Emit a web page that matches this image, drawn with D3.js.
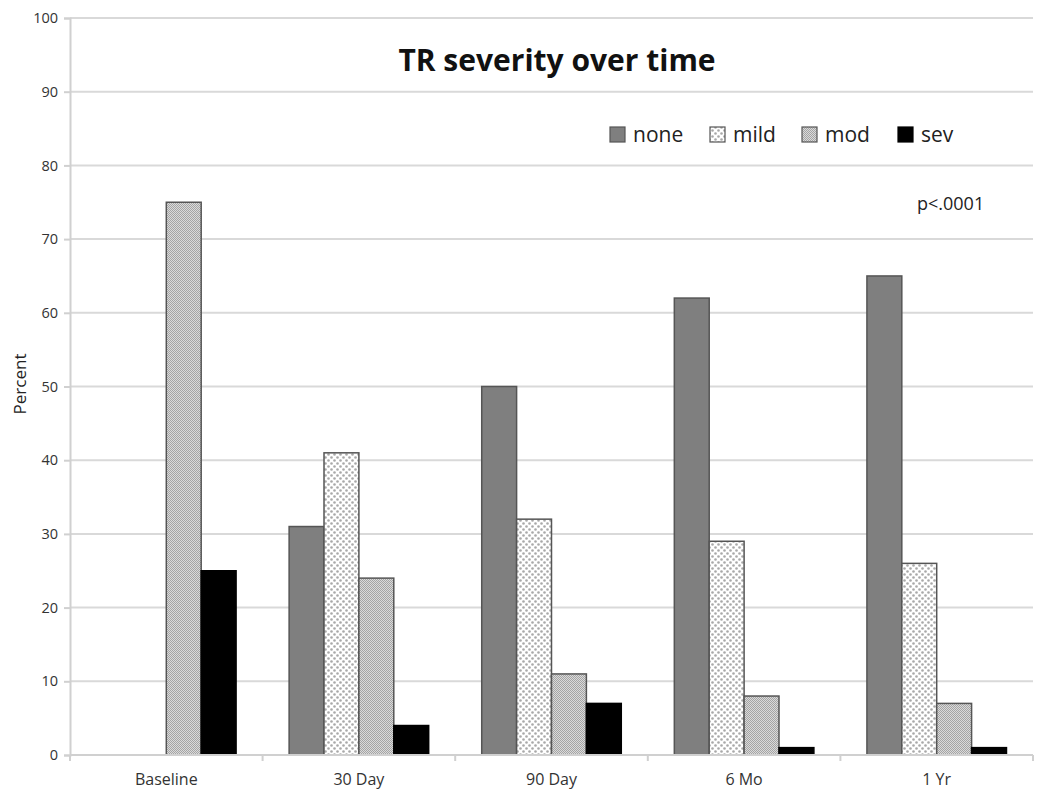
<!DOCTYPE html>
<html><head><meta charset="utf-8">
<script src="https://cdn.jsdelivr.net/npm/d3@7"></script>
<style>body{margin:0;background:#fff}svg{display:block}</style>
</head><body>
<svg id="c" width="1050" height="800"></svg>
<script>
const categories = ["Baseline", "30 Day", "90 Day", "6 Mo", "1 Yr"];
const seriesNames = ["none", "mild", "mod", "sev"];
const none = [0, 31, 50, 62, 65];
const mild = [0, 41, 32, 29, 26];
const mod  = [75, 24, 11, 8, 7];
const sev  = [25, 4, 7, 1, 1];
const yTicks = [0,10,20,30,40,50,60,70,80,90,100];
const title = "TR severity over time";
const yLabel = "Percent";
const note = "p<.0001";

const series = [none, mild, mod, sev];
const svg = d3.select("#c");
const font = "'Open Sans', 'Liberation Sans', sans-serif";
const M = {l:70, r:1033, t:18, b:755};

const defs = svg.append("defs");
const pm = defs.append("pattern").attr("id","pmild").attr("patternUnits","userSpaceOnUse").attr("width",6).attr("height",6);
pm.append("rect").attr("width",6).attr("height",6).attr("fill","#fff");
pm.append("circle").attr("cx",1.5).attr("cy",1.5).attr("r",1.3).attr("fill","#a8a8a8");
pm.append("circle").attr("cx",4.5).attr("cy",4.5).attr("r",1.3).attr("fill","#a8a8a8");
const pd = defs.append("pattern").attr("id","pmod").attr("patternUnits","userSpaceOnUse").attr("width",2).attr("height",2);
pd.append("rect").attr("width",2).attr("height",2).attr("fill","#dadada");
pd.append("rect").attr("x",0).attr("y",0).attr("width",1).attr("height",1).attr("fill","#a4a4a4");
pd.append("rect").attr("x",1).attr("y",1).attr("width",1).attr("height",1).attr("fill","#a4a4a4");

const fills = ["#7f7f7f", "url(#pmild)", "url(#pmod)", "#000"];
const strokes = ["#555", "#555", "#555", "#000"];

const y = d3.scaleLinear().domain([0,100]).range([M.b, M.t]);
const x = d3.scaleBand().domain(categories).range([M.l, M.r]);
const xi = d3.scaleBand().domain(seriesNames).range([0, x.bandwidth()]).paddingInner(0).paddingOuter(0.76);

// gridlines
svg.append("g").selectAll("line").data(yTicks.filter(d=>d>0)).join("line")
  .attr("x1", M.l).attr("x2", M.r).attr("y1", d=>y(d)).attr("y2", d=>y(d))
  .attr("stroke", "#d9d9d9").attr("stroke-width", 2);

// y axis
const ya = svg.append("g").attr("transform", `translate(${M.l},0)`)
  .call(d3.axisLeft(y).tickValues(yTicks).tickSize(6).tickPadding(6));
ya.select(".domain").attr("stroke","#d0d0d0").attr("stroke-width",2);
ya.selectAll(".tick line").attr("stroke","#d0d0d0").attr("stroke-width",2);
ya.selectAll("text").attr("font-family", font).attr("font-size", 14.5).attr("fill","#333");

// bars
categories.forEach((c, i) => {
  series.forEach((s, j) => {
    if (s[i] <= 0) return;
    svg.append("rect")
      .attr("x", x(c) + xi(seriesNames[j]))
      .attr("y", y(s[i]))
      .attr("width", xi.bandwidth())
      .attr("height", y(0) - y(s[i]))
      .attr("fill", fills[j]).attr("stroke", strokes[j]).attr("stroke-width", 1.5);
  });
});

// x axis
const xa = svg.append("g").attr("transform", `translate(0,${M.b})`);
xa.append("line").attr("x1", M.l).attr("x2", M.r).attr("stroke","#d0d0d0").attr("stroke-width",2);
xa.selectAll("line.tk").data(categories.map(c=>x(c)).concat([M.r])).join("line").attr("class","tk")
  .attr("x1", d=>d).attr("x2", d=>d).attr("y1",0).attr("y2",6).attr("stroke","#d0d0d0").attr("stroke-width",2);
xa.selectAll("text").data(categories).join("text")
  .attr("x", d=>x(d)+x.bandwidth()/2).attr("y", 30).attr("text-anchor","middle")
  .attr("font-family", font).attr("font-size", 16).attr("fill","#333").text(d=>d);

// y label
svg.append("text").attr("transform","translate(26,384) rotate(-90)").attr("text-anchor","middle")
  .attr("font-family", font).attr("font-size", 17).attr("fill","#222").text(yLabel);

// title
svg.append("text").attr("x", 557).attr("y", 71).attr("text-anchor","middle")
  .attr("font-family", font).attr("font-size", 30).attr("font-weight","bold").attr("fill","#111").text(title);

// legend
const legX = [610, 710, 802, 898];
const lg = svg.append("g");
seriesNames.forEach((n, j) => {
  lg.append("rect").attr("x", legX[j]).attr("y", 127).attr("width", 15).attr("height", 15)
    .attr("fill", fills[j]).attr("stroke", strokes[j]).attr("stroke-width", 1.2);
  lg.append("text").attr("x", legX[j] + 23).attr("y", 142)
    .attr("font-family", font).attr("font-size", 21).attr("fill","#222").text(n);
});

// note
svg.append("text").attr("x", 917).attr("y", 210)
  .attr("font-family", font).attr("font-size", 18).attr("fill","#222").text(note);
</script>
</body></html>
